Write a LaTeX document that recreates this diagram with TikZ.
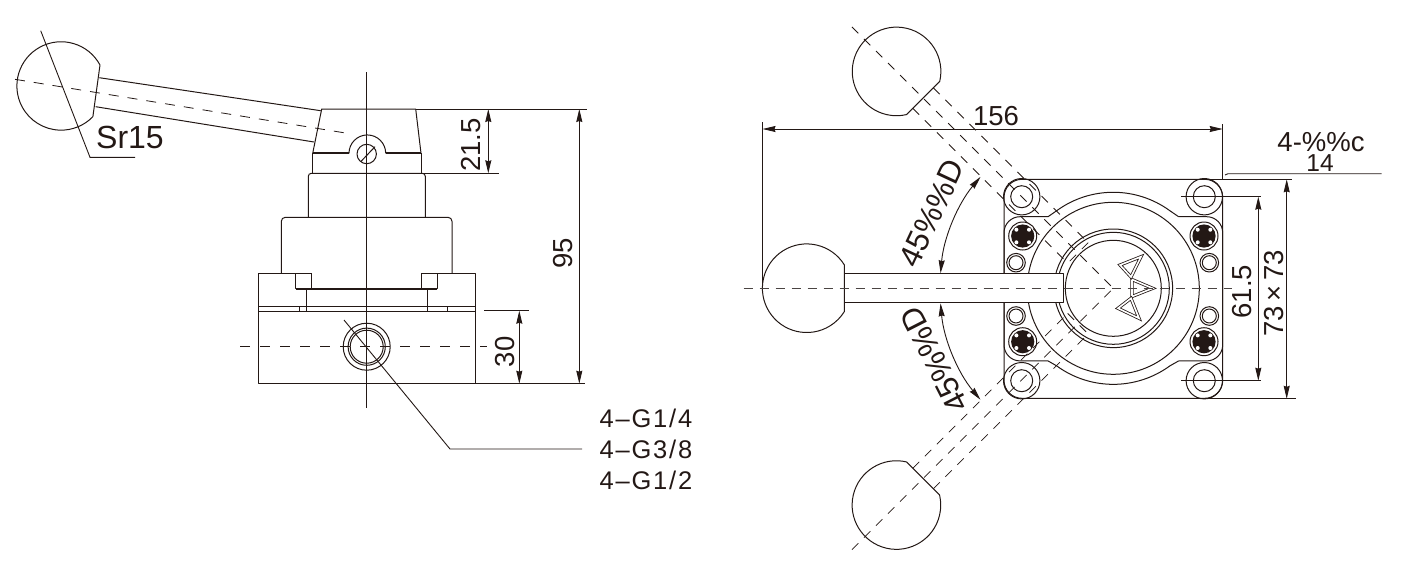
\documentclass[tikz,border=0pt]{standalone}
\usepackage{fontspec}
\setmainfont{Liberation Sans}
\usetikzlibrary{arrows.meta}
\definecolor{ink}{HTML}{231815}
\definecolor{ink2}{HTML}{4A4442}
\newfontfamily\dimf{Liberation Sans}
\newfontfamily\dims[LetterSpace=7]{Liberation Sans}
\tikzset{
  part/.style={draw=ink,line width=1pt,line join=round},
  thick part/.style={draw=ink,line width=1.7pt},
  axis/.style={draw=ink,line width=.8pt,dash pattern=on 9pt off 8pt},
  maxis/.style={draw=ink2,line width=1.1pt,dash pattern=on 9pt off 7pt},
  dimline/.style={draw=ink,line width=.9pt},
  dimarrow/.style={draw=ink,line width=.9pt,{Stealth[length=13pt,width=6pt,inset=1pt]}-{Stealth[length=13pt,width=6pt,inset=1pt]}},
  lab/.style={text=ink,inner sep=0pt,font=\dimf\fontsize{27.5}{29}\selectfont},
  big/.style={text=ink,inner sep=0pt,font=\dimf\fontsize{32}{34}\selectfont},
  ang/.style={text=ink,inner sep=0pt,font=\dimf\fontsize{31.5}{33}\selectfont},
  sub/.style={text=ink,inner sep=0pt,font=\dimf\fontsize{24.5}{26}\selectfont},
  small/.style={text=ink,inner sep=0pt,font=\dims\fontsize{25.5}{27}\selectfont},
  tri/.style={draw=ink,line width=.8pt,double=white,double distance=1.6pt,line join=miter}
}
\newcommand{\cornerhole}[2]{%
  \draw[part] (#1,#2) circle[radius=18.2];
  \draw[part] (#1,#2) circle[radius=11];}
\newcommand{\smallhole}[2]{%
  \draw[part] (#1,#2) circle[radius=9.3];
  \draw[part] (#1,#2) circle[radius=7];}
\newcommand{\screw}[2]{%
  \draw[part] (#1,#2) circle[radius=14];
  \fill[ink] (#1,#2) circle[radius=11.6];
  \foreach \sx in {-1,1}\foreach \sy in {-1,1}
    \fill[white] ({#1+\sx*6.3},{#2+\sy*6.3}) circle[radius=2];}
\newcommand{\dashedhandle}[1]{%
  \begin{scope}[rotate around={#1:(1113.3,288.3)}]
    \draw[part] (844.3,264.8) arc[start angle=-31.9,end angle=-328.1,radius=44.3] -- cycle;
    \draw[axis] (743.7,288.3) -- (1113.3,288.3);
    \draw[axis] (844.3,273.8) -- (1063.3,273.8);
    \draw[axis] (844.3,302.8) -- (1063.3,302.8);
    \draw[axis] (1063.3,273.8) -- (1063.3,302.8);
  \end{scope}}
\begin{document}
\begin{tikzpicture}[x=1pt,y=-1pt]
\useasboundingbox (0,0) rectangle (1415,574);
% ---------- left view: lever ----------
\draw[part] (100,65) arc[start angle=-28.3,end angle=-316,radius=44.2] -- cycle;
\draw[part] (99.3,77.7) -- (320.7,110.7);
\draw[part] (95.7,106.7) -- (314,142);
\draw[axis,dash pattern=on 10pt off 9pt] (15,79.3) -- (351.7,134);
\coordinate (srA) at (40.7,30.7);
\coordinate (srB) at (90,157.3);
\coordinate (srC) at (135,157.3);
\draw[dimline] (srA) -- (srB) -- (srC);
\node[big] (sr) at (130,137) {Sr15};
% ---------- left view: body ----------
\draw[part] (312.7,153.3) -- (321.7,109) -- (415.7,109) -- (421,153.3);
\draw[thick part] (312.7,153.3) -- (349,153.3);
\draw[thick part] (385.7,153.3) -- (421,153.3);
\draw[part] (312.7,153.3) -- (312.7,173.3) -- (421,173.3) -- (421,153.3);
\draw[part,rounded corners=3pt] (308.3,217.3) -- (308.3,173.3) -- (425.3,173.3) -- (425.3,217.3);
\draw[part,rounded corners=4pt] (281.3,273.3) -- (281.3,217.3) -- (452,217.3) -- (452,273.3);
\draw[part] (258.3,273.3) rectangle (475,383.7);
\fill[white] (311.9,272.5) rectangle (421.5,288);
\draw[part] (295.7,273.3) rectangle (311.7,288.7);
\draw[part] (421.7,273.3) rectangle (437.3,288.7);
\draw[thick part] (295.7,288.7) -- (437.3,288.7);
\draw[part] (306,288.7) -- (306,311.7);
\draw[part] (427,288.7) -- (427,311.7);
\draw[part] (258.3,306) -- (475,306);
\draw[part] (258.3,311.7) -- (475,311.7);
\draw[part] (299.7,306) rectangle (447.7,311.7);
\draw[thick part] (306,306.4) -- (427,306.4);
\draw[thick part] (306,311.4) -- (427,311.4);
\draw[part] (349,153.3) arc[start angle=180,end angle=360,radius=18.35];
\fill[white] (366.7,154) circle[radius=9.2];
\draw[part] (366.7,154) circle[radius=9.7];
\draw[part] (360.7,161.7) -- (375,146.7);
\draw[part] (366.7,346.7) circle[radius=23.5];
\draw[part] (366.7,346.7) circle[radius=18.6];
\draw[part] (366.7,346.7) circle[radius=16.5];
\draw[axis,dash pattern=on 10pt off 10pt] (240,346.7) -- (486.7,346.7);
\draw[dimline] (366.7,72) -- (366.7,408);
% leader
\coordinate (ldA) at (344,320);
\coordinate (ldB) at (450,449);
\coordinate (ldC) at (582,449);
\draw[dimline] (ldA) -- (ldB) -- (ldC);
\node[small] (g1) at (646,418) {4–G1/4};
\node[small] (g2) at (646,449) {4–G3/8};
\node[small] (g3) at (646,480) {4–G1/2};
% left view dimensions
\coordinate (topR) at (415.7,109);
\coordinate (topE) at (586.7,109);
\coordinate (bandR) at (421,173.3);
\coordinate (bandE) at (499.3,173.3);
\coordinate (baseR) at (475,383.7);
\coordinate (baseE) at (585,383.7);
\draw[dimline] (topR) -- (topE);
\draw[dimline] (bandR) -- (bandE);
\draw[dimline] (baseR) -- (baseE);
\draw[dimline] (484,310.7) -- (529.3,310.7);
\draw[dimarrow] (488.3,109) -- (488.3,173.3);
\draw[dimarrow] (579.3,109) -- (579.3,383.7);
\draw[dimarrow] (519.3,310.7) -- (519.3,383.7);
\node[lab,rotate=90] (d215) at (471,145) {21.5};
\node[lab,rotate=90] (d95) at (563,253) {95};
\node[lab,rotate=90] (d30) at (505,351.7) {30};
% ---------- right view: plate ----------
\draw[part,rounded corners=18pt] (1004,179.3) rectangle (1222.7,398.3);
\foreach \px in {1021.7,1204.3}\foreach \py in {196.7,380.7}{\cornerhole{\px}{\py}}
\foreach \px in {1022.7,1204}\foreach \py in {236,341.7}{\screw{\px}{\py}}
\foreach \px in {1016,1209.3}\foreach \py in {262.7,316}{\smallhole{\px}{\py}}
\draw[part,rounded corners=16pt] (1048,216.7) -- (1004,216.7) -- (1004,360.9) -- (1048,360.9);
\draw[part,rounded corners=16pt] (1178.6,216.7) -- (1222.7,216.7) -- (1222.7,360.9) -- (1178.6,360.9);
\draw[part] (1048,216.7) -- (1056.7,210.7) arc[start angle=-126.1,end angle=-53.9,radius=96] -- (1178.6,216.7);
\draw[part] (1048,360.9) -- (1056.7,365.9) arc[start angle=126.1,end angle=53.9,radius=96] -- (1178.6,360.9);
\draw[part] (1113.3,288.3) circle[radius=86];
\draw[part] (1113.3,288.3) circle[radius=59.3];
\draw[part] (1113.3,288.3) circle[radius=56];
\draw[part] (1113.3,288.3) circle[radius=48];
% triangles
\draw[tri] (1152.7,288.3) -- (1132,279.5) -- (1132,296.5) -- cycle;
\draw[tri] (1141,256.7) -- (1120,265) -- (1131,277) -- cycle;
\draw[tri] (1139,318.3) -- (1131,298.3) -- (1118,308.3) -- cycle;
% lever
\draw[part] (844.3,264.8) arc[start angle=-31.9,end angle=-328.1,radius=44.3] -- cycle;
\fill[white] (845,274.3) rectangle (1063,302.3);
\draw[part] (844.3,273.8) -- (1063.3,273.8) -- (1063.3,302.8) -- (844.3,302.8);
\draw[maxis] (743.7,288.3) -- (1231.7,288.3);
\dashedhandle{45}
\dashedhandle{-45}
% ---------- right view dimensions ----------
\coordinate (wL) at (762.5,129);
\coordinate (wR) at (1222.7,129);
\draw[dimline] (762.5,122) -- (762.5,286);
\draw[dimline] (1222.7,124) -- (1222.7,179.3);
\draw[dimarrow] (wL) -- (wR);
\node[lab] (d156) at (996,116) {156};
\draw[dimline] (1225,175) -- (1228,173.7) -- (1381.7,173.7);
\node[lab] (dphi) at (1321,142.5) {4-\%\%c};
\node[sub] (d14) at (1320,163.5) {14};
\draw[dimline] (1181,196.7) -- (1261,196.7);
\draw[dimline] (1181,380.7) -- (1261,380.7);
\draw[dimline] (1204,179.3) -- (1292,179.3);
\draw[dimline] (1204,398.8) -- (1295.7,398.8);
\draw[dimarrow] (1258.3,196.7) -- (1258.3,380.7);
\draw[dimarrow] (1286.7,179.3) -- (1286.7,398.8);
\node[lab,rotate=90] (d615) at (1242.3,291.7) {61.5};
\node[lab,rotate=90] (d73) at (1274,293.3) {73\,×\,73};
\draw[dimarrow] ([shift={(185:173.4)}]1113.3,288.3) arc[start angle=185,end angle=220,radius=173.4];
\draw[dimarrow] ([shift={(175:173.4)}]1113.3,288.3) arc[start angle=175,end angle=140,radius=173.4];
\node[ang,rotate=65] (ang1) at (931.7,213) {45\%\%D};
\node[ang,rotate=117] (ang2) at (934.5,360) {45\%\%D};
\end{tikzpicture}
\end{document}
